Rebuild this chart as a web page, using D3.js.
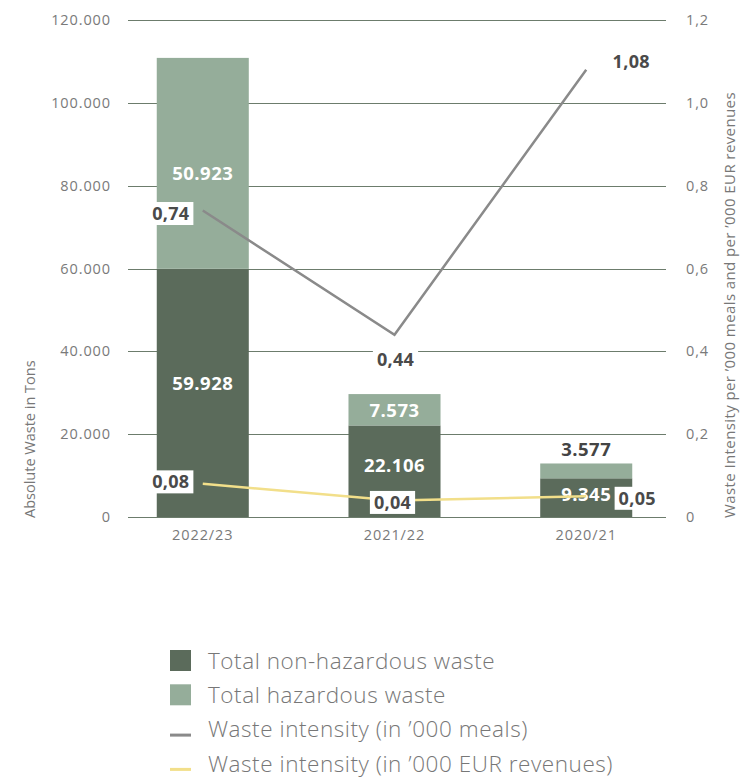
<!DOCTYPE html>
<html><head><meta charset="utf-8">
<script src="https://cdn.jsdelivr.net/npm/d3@7"></script>
<style>body{margin:0;background:#fff;} text{font-family:"Open Sans",sans-serif;}</style>
</head><body><svg id="c" width="740" height="779"></svg>
<script>
const categories = ["2022/23","2021/22","2020/21"];
const nonHazardous = [59928, 22106, 9345];
const hazardous = [50923, 7573, 3577];
const intensityMeals = [0.74, 0.44, 1.08];
const intensityRevenue = [0.08, 0.04, 0.05];
const leftTicks = [0, 20000, 40000, 60000, 80000, 100000, 120000];
const rightTicks = [0, 0.2, 0.4, 0.6, 0.8, 1.0, 1.2];

const fmtInt = v => d3.format(",")(v).replace(/,/g, ".");
const fmtDec = v => v.toFixed(2).replace(".", ",");
const fmtTick = v => v === 0 ? "0" : v.toFixed(1).replace(".", ",");

const svg = d3.select("#c");
const x0 = 128, x1 = 666, yTop = 20, yBot = 517;
const x = d3.scaleBand().domain(categories).range([128, 661]).paddingInner(0.52).paddingOuter(0.15);
const y = d3.scaleLinear().domain([0, 120000]).range([yBot, yTop]);
const y2 = d3.scaleLinear().domain([0, 1.2]).range([yBot, yTop]);

const C_DARK = "#5b6b5b", C_LIGHT = "#95ad9a", C_GRID = "#6c7c6c";
const TICK_STYLE = sel => sel.attr("font-size", 14.5).attr("letter-spacing", 0.9).attr("fill", "#7a7a7a");

// grid
svg.append("g").selectAll("line").data(leftTicks).join("line")
  .attr("x1", x0).attr("x2", x1).attr("y1", d => Math.round(y(d)) + 0.5).attr("y2", d => Math.round(y(d)) + 0.5)
  .attr("stroke", C_GRID).attr("stroke-width", 1);

// left ticks
svg.append("g").selectAll("text").data(leftTicks).join("text")
  .attr("x", 111).attr("y", d => y(d)).attr("dy", "0.35em").attr("text-anchor", "end")
  .call(TICK_STYLE).text(d => fmtInt(d));
// right ticks
svg.append("g").selectAll("text").data(rightTicks).join("text")
  .attr("x", 686).attr("y", d => y2(d)).attr("dy", "0.35em").attr("text-anchor", "start")
  .call(TICK_STYLE).text(d => fmtTick(d));

// axis titles
svg.append("text").attr("transform", `translate(35,${yBot + 1}) rotate(-90)`)
  .attr("font-size", 14.5).attr("fill", "#777").text("Absolute Waste in Tons");
svg.append("text").attr("transform", `translate(735,${yBot + 1}) rotate(-90)`)
  .attr("font-size", 15).attr("letter-spacing", 0.4).attr("fill", "#777").text("Waste Intensity per ’000 meals and per ’000 EUR revenues");

// x labels
svg.append("g").selectAll("text").data(categories).join("text")
  .attr("x", d => x(d) + x.bandwidth() / 2).attr("y", 540).attr("text-anchor", "middle")
  .call(TICK_STYLE).text(d => d);

// bars
const bars = svg.append("g");
categories.forEach((c, i) => {
  bars.append("rect").attr("x", x(c)).attr("width", x.bandwidth())
    .attr("y", y(nonHazardous[i])).attr("height", y(0) - y(nonHazardous[i])).attr("fill", C_DARK);
  bars.append("rect").attr("x", x(c)).attr("width", x.bandwidth())
    .attr("y", y(nonHazardous[i] + hazardous[i])).attr("height", y(nonHazardous[i]) - y(nonHazardous[i] + hazardous[i])).attr("fill", C_LIGHT);
});

// bar labels
const LBL = sel => sel.attr("font-size", 18.5).attr("font-weight", 700).attr("letter-spacing", 0.5);
categories.forEach((c, i) => {
  const cx = x(c) + x.bandwidth() / 2;
  const tDark = y(nonHazardous[i]);
  const tTot = y(nonHazardous[i] + hazardous[i]);
  const yn = i === 0 ? (tDark + y(0)) / 2 - 9 : (i === 1 ? tDark + 40 : tDark + 16);
  svg.append("text").attr("x", cx).attr("y", yn).attr("dy", "0.35em").attr("text-anchor", "middle")
    .call(LBL).attr("fill", "#fff").text(fmtInt(nonHazardous[i]));
  let yh, col = "#fff";
  if (i === 0) yh = tTot + 116;
  else if (i === 1) yh = (tTot + tDark) / 2 + 1;
  else { yh = tTot - 14; col = "#444"; }
  svg.append("text").attr("x", cx).attr("y", yh).attr("dy", "0.35em").attr("text-anchor", "middle")
    .call(LBL).attr("fill", col).text(fmtInt(hazardous[i]));
});

// lines
const cxOf = c => x(c) + x.bandwidth() / 2;
const line = d3.line().x(d => cxOf(d.c)).y(d => y2(d.v));
svg.append("path").datum(categories.map((c, i) => ({c, v: intensityMeals[i]})))
  .attr("d", line).attr("fill", "none").attr("stroke", "#8a8a8a").attr("stroke-width", 2.5);
svg.append("path").datum(categories.map((c, i) => ({c, v: intensityRevenue[i]})))
  .attr("d", line).attr("fill", "none").attr("stroke", "#f2df8a").attr("stroke-width", 2.5);

// line labels (offsets are styling)
const mealOff = [[-32, 3, true], [1, 25, true], [45, -8, false]];
const revOff = [[-32, -2, true], [-2, 2, true], [51, 2, true]];
function pointLabel(c, v, off) {
  const px = cxOf(c) + off[0], py = y2(v) + off[1];
  const g = svg.append("g");
  const t = g.append("text").attr("x", px).attr("y", py).attr("dy", "0.35em").attr("text-anchor", "middle")
    .attr("font-size", 18).attr("font-weight", 700).attr("letter-spacing", 0.3).attr("fill", "#4a4a4a").text(fmtDec(v));
  if (off[2]) {
    const b = t.node().getBBox();
    g.insert("rect", "text").attr("x", b.x - 4).attr("y", py - 11.5).attr("width", b.width + 8).attr("height", 23).attr("fill", "#fff");
  }
}
categories.forEach((c, i) => pointLabel(c, intensityMeals[i], mealOff[i]));
categories.forEach((c, i) => pointLabel(c, intensityRevenue[i], revOff[i]));

// legend
const legend = [
  {label: "Total non-hazardous waste", type: "rect", color: C_DARK},
  {label: "Total hazardous waste", type: "rect", color: C_LIGHT},
  {label: "Waste intensity (in ’000 meals)", type: "line", color: "#8a8a8a"},
  {label: "Waste intensity (in ’000 EUR revenues)", type: "line", color: "#f2df8a"}
];
const lg = svg.append("g");
legend.forEach((d, i) => {
  const cy = 661 + i * 34.3;
  if (d.type === "rect") lg.append("rect").attr("x", 170).attr("y", cy - 11).attr("width", 21).attr("height", 21).attr("fill", d.color);
  else lg.append("rect").attr("x", 170).attr("y", cy + 4).attr("width", 21).attr("height", 3).attr("fill", d.color);
  lg.append("text").attr("x", 208).attr("y", cy).attr("dy", "0.35em").attr("font-size", 22.5).attr("font-weight", 300)
    .attr("letter-spacing", 0.55).attr("fill", "#777").text(d.label);
});
</script></body></html>
